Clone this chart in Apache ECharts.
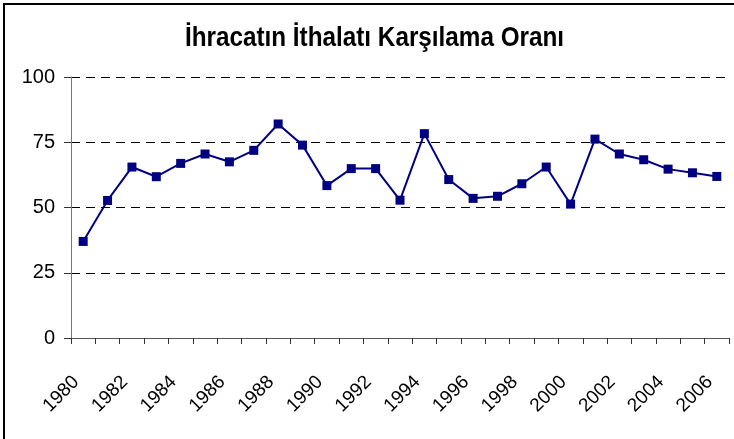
<!DOCTYPE html>
<html><head><meta charset="utf-8">
<script src="https://cdn.jsdelivr.net/npm/echarts@6/dist/echarts.min.js"></script>
<style>html,body{margin:0;padding:0;background:#fff}#c{width:734px;height:439px}</style>
</head><body><div id="c"></div>
<script>
const titleText = 'İhracatın İthalatı Karşılama Oranı';
const years = ['1980','1981','1982','1983','1984','1985','1986','1987','1988','1989','1990','1991','1992','1993','1994','1995','1996','1997','1998','1999','2000','2001','2002','2003','2004','2005','2006'];
const ratio = [37.0,52.7,65.5,61.8,66.9,70.5,67.5,71.9,82.0,73.9,58.4,64.9,64.9,52.8,78.3,60.7,53.5,54.3,59.1,65.5,51.3,76.2,70.5,68.3,64.7,63.3,61.9];
const yTicks = {min:0, max:100, interval:25};

const chart = echarts.init(document.getElementById('c'), null, {renderer:'canvas'});
chart.setOption({
  animation:false,
  backgroundColor:'#fff',
  graphic:[
    {type:'rect', shape:{x:4, y:4, width:800, height:500},
      style:{fill:'none', stroke:'#000', lineWidth:2}, silent:true},
    {type:'text', x:374.5, y:38, scaleX:0.867, scaleY:1, silent:true,
      style:{text:titleText, fill:'#000', align:'center', verticalAlign:'middle',
        font:'bold 28px Arial, "Liberation Sans", sans-serif'}}
  ],
  grid:{left:71, right:5, top:77, bottom:101},
  xAxis:{type:'category', data:years, boundaryGap:true,
    axisLine:{lineStyle:{color:'#555', width:1}},
    axisTick:{show:true, length:6, interval:0, lineStyle:{color:'#333'}},
    axisLabel:{interval:1, rotate:45, margin:34, padding:[0,10,0,0], fontSize:19,
      fontFamily:'Arial, "Liberation Sans", sans-serif', color:'#000'},
    splitLine:{show:false}},
  yAxis:{type:'value', min:yTicks.min, max:yTicks.max, interval:yTicks.interval,
    axisLine:{show:true, lineStyle:{color:'#777', width:1}},
    axisTick:{show:true, length:7, lineStyle:{color:'#333'}},
    axisLabel:{margin:16, fontSize:20, fontFamily:'Arial, "Liberation Sans", sans-serif', color:'#000'},
    splitLine:{show:true, lineStyle:{color:'#000', type:[9,6], width:1}}},
  series:[{type:'line', data:ratio, symbol:'rect', symbolSize:9,
    lineStyle:{color:'#000080', width:2}, itemStyle:{color:'#000080'}}]
});
</script></body></html>
